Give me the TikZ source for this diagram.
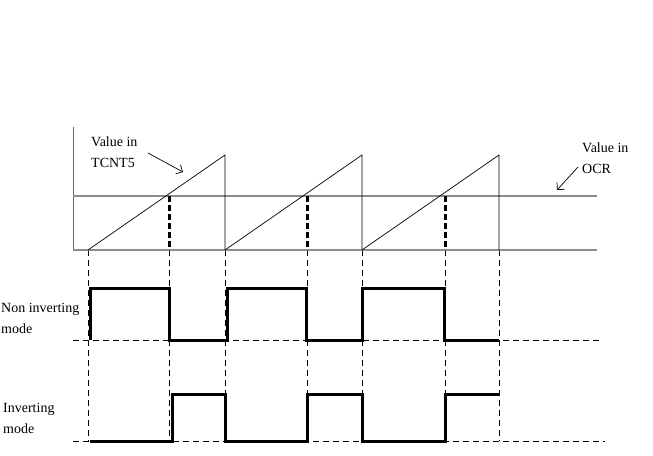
\documentclass[tikz,border=0pt]{standalone}
\usepackage{fontspec}
\setmainfont{Liberation Serif}
\usetikzlibrary{arrows.meta,positioning}

\begin{document}
\begin{tikzpicture}[
  x=1pt, y=-1pt,
  axis/.style={draw=black!45, line width=1.8pt},
  ramp/.style={draw=black, line width=0.7pt},
  guide/.style={draw=black, line width=0.7pt, dash pattern=on 6pt off 4pt},
  cross/.style={draw=black, line width=3pt, dash pattern=on 6pt off 3pt},
  wave/.style={draw=black, line width=3pt, line join=miter},
  label/.style={font=\fontsize{14}{21}\selectfont, align=left, inner sep=0pt, anchor=north west},
  arrow/.style={-{Straight Barb[length=1.8mm]}, line width=0.7pt}
]
  \useasboundingbox (0,0) rectangle (653,455);

  % guide lines below the counter
  \foreach \x in {88,169,225,307,362,445,499}
    \draw[guide] (\x,250) -- (\x,441);
  \draw[guide] (73,340) -- (600,340);
  \draw[guide] (73,441) -- (605,441);

  % axes and compare level
  \draw[black!60, line width=0.9pt] (73,127) -- (73,250);
  \draw[axis] (73,250) -- (597,250);
  \draw[axis] (73,196) -- (597,196);

  % counter ramps
  \foreach \s in {88,225,362}
    \draw[ramp] (\s,250) -- (\s+137,155) -- (\s+137,250);
  \foreach \x in {169,307,445}
    \draw[cross] (\x,196) -- (\x,250);

  % output waveforms
  \draw[wave] (90,340) -- (90,288) -- (169,288) -- (169,340) -- (227,340)
    -- (227,288) -- (306,288) -- (306,340) -- (362,340) -- (362,288)
    -- (444,288) -- (444,340) -- (499,340);
  \draw[wave] (90,441) -- (172,441) -- (172,394) -- (225,394) -- (225,441)
    -- (307,441) -- (307,394) -- (362,394) -- (362,441) -- (445,441)
    -- (445,394) -- (499,394);

  % labels
  \node[label] (tcnt) at (91,137) {Value in\\TCNT5};
  \node[label] (ocr) at (582,143) {Value in\\OCR};
  \node[label] (noninv) at (1,303) {Non inverting\\mode};
  \node[label] (inv) at (3,403) {Inverting\\mode};

  \coordinate (tcnttail) at (148,153);
  \coordinate (tcnttip) at (183,172);
  \coordinate (ocrtail) at (578,167);
  \coordinate (ocrtip) at (557,190);
  \draw[arrow] (tcnttail) -- (tcnttip);
  \draw[arrow] (ocrtail) -- (ocrtip);
\end{tikzpicture}
\end{document}
